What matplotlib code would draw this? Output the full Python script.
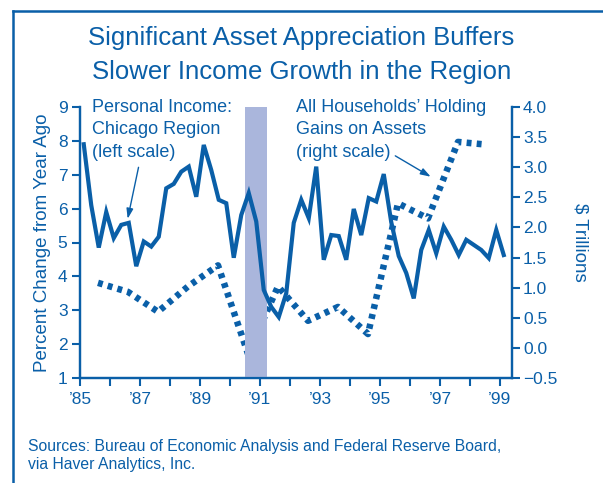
import numpy as np
import matplotlib
matplotlib.use("Agg")
import matplotlib.pyplot as plt
from matplotlib.lines import Line2D

BLUE = "#0a5fa8"
SHADE = "#aab6dc"

# Personal income, Chicago region, % change from year ago (quarterly, 1985Q1-1999Q1)
income_start = 1985.125
income = [7.9, 6.1, 4.85, 5.9, 5.13, 5.52, 5.58, 4.3, 5.03, 4.88, 5.17, 6.6,
          6.73, 7.09, 7.24, 6.35, 7.88, 7.14, 6.26, 6.16, 4.55, 5.81, 6.46, 5.62,
          3.6, 3.1, 2.8, 3.5, 5.58, 6.26, 5.72, 7.24, 4.49, 5.22, 5.19, 4.49,
          5.99, 5.22, 6.31, 6.21, 7.02, 5.6, 4.6, 4.1, 3.35, 4.78, 5.37, 4.68,
          5.47, 5.08, 4.63, 5.08, 4.93, 4.78, 4.54, 5.37, 4.63]

# Household holding gains on assets, $ trillions
gains_years = [1985.6, 1986.6, 1987.6, 1988.6, 1989.6, 1990.6, 1991.6,
               1992.6, 1993.6, 1994.6, 1995.6, 1996.6, 1997.6, 1998.45]
gains = [1.08, 0.93, 0.60, 1.02, 1.37, -0.1, 1.02, 0.45, 0.68, 0.23, 2.4,
         2.15, 3.42, 3.38]

recession = (1990.5, 1991.25)

year_ticks = list(range(1985, 2000))
year_labels = ["\u2019%02d" % (y % 100) if y % 2 == 1 else "" for y in year_ticks]

plt.rcParams["font.family"] = ["Liberation Sans", "DejaVu Sans"]

fig = plt.figure(figsize=(6.03, 4.83), dpi=100)
ax = fig.add_axes([80 / 603, 1 - 378 / 483, 432 / 603, 271 / 483])
ax2 = ax.twinx()

income_x = income_start + 0.25 * np.arange(len(income))

ax.axvspan(*recession, color=SHADE, lw=0, zorder=0)
ax.plot(income_x, income, color=BLUE, lw=3.0, solid_joinstyle="miter", zorder=3)
ax2.plot(gains_years, gains, color=BLUE, lw=4.7, ls=(0, (0.75, 0.8)),
         dash_capstyle="butt", zorder=3)

ax.set_xlim(1985, 1999.4)
ax.set_ylim(1, 9)
ax2.set_ylim(-0.5, 4.0)
ax.set_xticks(year_ticks)
ax.set_xticklabels(year_labels)
ax.set_yticks(range(1, 10))
ax2.set_yticks(np.arange(-0.5, 4.01, 0.5))
ax2.set_yticklabels(["\u22120.5"] + ["%.1f" % v for v in np.arange(0, 4.01, 0.5)])

for a in (ax, ax2):
    a.spines["top"].set_visible(False)
    for s in a.spines.values():
        s.set_color(BLUE)
        s.set_linewidth(1.6)
    a.tick_params(colors=BLUE, labelcolor=BLUE, labelsize=12.5, width=1.5,
                  length=6, direction="out")
ax.tick_params(axis="y", pad=3)
ax.tick_params(axis="x", pad=4)
ax2.tick_params(axis="y", pad=2)
ax.set_zorder(ax2.get_zorder() + 1)
ax.patch.set_visible(False)

ax.set_ylabel("Percent Change from Year Ago", color=BLUE, fontsize=13.5, labelpad=5)
ax2.set_ylabel("$ Trillions", color=BLUE, fontsize=13.5, rotation=270, labelpad=22)

ax.text(1985.4, 9.25, "Personal Income:\nChicago Region\n(left scale)",
        color=BLUE, fontsize=13, va="top", ha="left", linespacing=1.45)
ax.annotate("", xy=(1986.57, 5.62), xytext=(1986.97, 7.3),
            arrowprops=dict(arrowstyle="-|>,head_length=0.6,head_width=0.2",
                            color=BLUE, lw=1.0))
ax.text(1992.2, 9.25, "All Households\u2019 Holding\nGains on Assets\n(right scale)",
        color=BLUE, fontsize=13, va="top", ha="left", linespacing=1.45)
ax.annotate("", xy=(1996.77, 6.9), xytext=(1995.43, 7.6),
            arrowprops=dict(arrowstyle="-|>,head_length=0.6,head_width=0.2",
                            color=BLUE, lw=1.0))

fig.text(0.5, 1 - 38 / 483, "Significant Asset Appreciation Buffers",
         color=BLUE, fontsize=18.5, ha="center", va="center")
fig.text(0.5, 1 - 72 / 483, "Slower Income Growth in the Region",
         color=BLUE, fontsize=18.5, ha="center", va="center")
fig.text(28 / 603, 1 - 447 / 483,
         "Sources: Bureau of Economic Analysis and Federal Reserve Board,",
         color=BLUE, fontsize=11.3, ha="left", va="center")
fig.text(28 / 603, 1 - 465 / 483, "via Haver Analytics, Inc.",
         color=BLUE, fontsize=11.3, ha="left", va="center")

# frame around the panel
fig.add_artist(Line2D([12.5 / 603, 12.5 / 603], [0, 1 - 10.5 / 483],
                      color=BLUE, lw=1.8))
fig.add_artist(Line2D([12.5 / 603, 1], [1 - 10.5 / 483, 1 - 10.5 / 483],
                      color=BLUE, lw=1.8))

fig.savefig("out.png", dpi=100)
